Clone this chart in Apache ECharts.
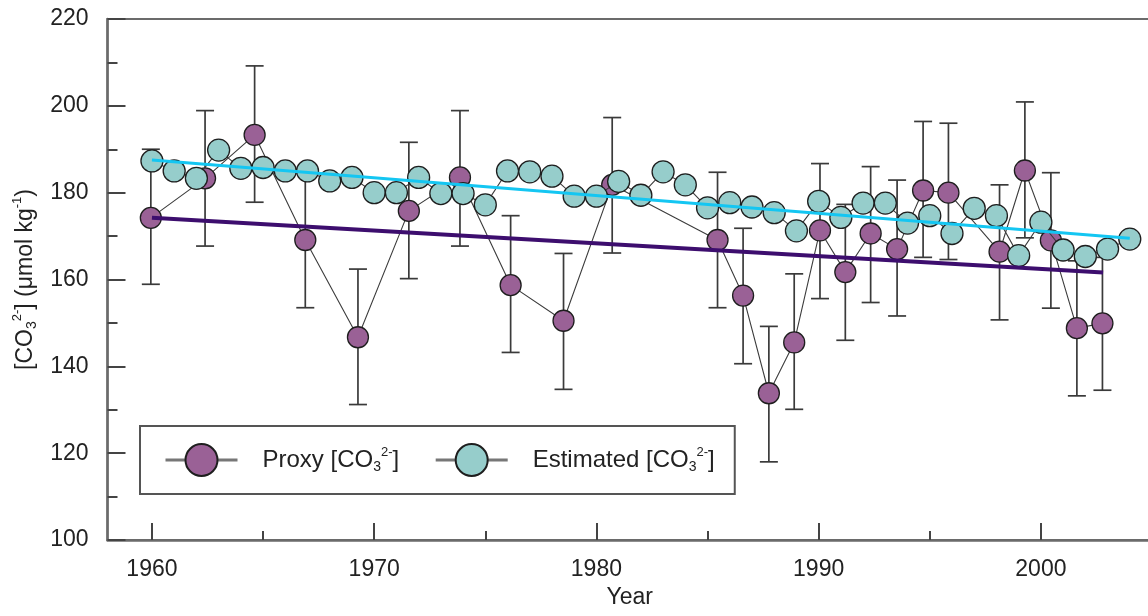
<!DOCTYPE html>
<html>
<head>
<meta charset="utf-8">
<title>Proxy and estimated carbonate ion concentration</title>
<script src="https://cdn.jsdelivr.net/npm/echarts@6/dist/echarts.min.js"></script>
<style>
  html, body { margin: 0; padding: 0; background: #fff; }
  #chart { width: 1148px; height: 616px; }
</style>
</head>
<body>
<div id="chart"></div>
<script>
// Proxy record: sample year, value and error-bar limits (µmol kg-1)
const proxyYears  = [1959.95, 1962.39, 1964.62, 1966.90, 1969.27, 1971.56, 1973.86, 1976.14, 1978.52, 1980.71,
                     1985.45, 1986.60, 1987.76, 1988.90, 1990.06, 1991.20, 1992.34, 1993.53, 1994.70, 1995.84,
                     1998.14, 1999.28, 2000.45, 2001.62, 2002.77];
const proxyValues = [174.2, 183.3, 193.3, 169.1, 146.7, 175.8, 183.5, 158.7, 150.5, 181.8,
                     169.1, 156.3, 133.8, 145.5, 171.3, 161.7, 170.6, 167.0, 180.5, 180.0,
                     166.4, 185.1, 169.0, 148.8, 149.9];
const proxyLow    = [158.9, 167.7, 177.8, 153.5, 131.2, 160.2, 167.7, 143.2, 134.7, 166.1,
                     153.5, 140.6, 118.0, 130.1, 155.6, 146.0, 154.7, 151.6, 165.1, 164.6,
                     150.7, 169.6, 153.4, 133.2, 134.5];
const proxyHigh   = [190.0, 198.9, 209.2, 184.7, 162.4, 191.6, 198.9, 174.7, 166.0, 197.3,
                     184.7, 171.8, 149.2, 161.3, 186.7, 177.3, 186.0, 182.9, 196.4, 196.0,
                     181.8, 200.9, 184.6, 164.3, 165.1];

// Estimated annual values
const estYears  = [1960, 1961, 1962, 1963, 1964, 1965, 1966, 1967, 1968, 1969,
                   1970, 1971, 1972, 1973, 1974, 1975, 1976, 1977, 1978, 1979,
                   1980, 1981, 1982, 1983, 1984, 1985, 1986, 1987, 1988, 1989,
                   1990, 1991, 1992, 1993, 1994, 1995, 1996, 1997, 1998, 1999,
                   2000, 2001, 2002, 2003, 2004];
const estValues = [187.3, 185.0, 183.3, 189.8, 185.6, 185.8, 185.0, 185.0, 182.7, 183.5,
                   180.0, 180.0, 183.5, 179.8, 179.8, 177.2, 185.0, 184.8, 183.8, 179.2,
                   179.2, 182.6, 179.4, 184.8, 181.8, 176.5, 177.7, 176.7, 175.4, 171.2,
                   178.0, 174.3, 177.6, 177.6, 173.0, 174.7, 170.6, 176.4, 174.7, 165.5,
                   173.2, 166.8, 165.3, 167.0, 169.3];

// Linear trend end points
const proxyTrend = [[1960, 174.2], [2002.8, 161.6]];
const estTrend   = [[1960, 187.5], [2004, 169.5]];

// Axis ticks
const yearMajorTicks = [1960, 1970, 1980, 1990, 2000];
const yearMinorTicks = [1965, 1975, 1985, 1995];

const FONT = "'Liberation Sans', Arial, Helvetica, sans-serif";
const TEXT = '#222';
const AXIS = '#6b6b6b';

const subSup = {
  sub: { fontSize: 14, fontFamily: FONT, color: TEXT, verticalAlign: 'bottom', lineHeight: 28 },
  sup: { fontSize: 13, fontFamily: FONT, color: TEXT, verticalAlign: 'top', lineHeight: 28 }
};

const proxyData = proxyYears.map((y, i) => [y, proxyValues[i]]);
const estData = estYears.map((y, i) => [y, estValues[i]]);
const errData = proxyYears.map((y, i) => [y, proxyLow[i], proxyHigh[i]]);

const chart = echarts.init(document.getElementById('chart'), null, { renderer: 'canvas' });

chart.setOption({
  animation: false,
  backgroundColor: '#fff',
  grid: {
    left: 107.5, top: 19, width: 1044.5, height: 521,
    outerBoundsMode: 'none',
    show: true, borderColor: AXIS, borderWidth: 2, backgroundColor: 'transparent'
  },
  legend: {
    data: ['Proxy', 'Estimated'],
    left: 140, top: 426,
    orient: 'horizontal',
    itemWidth: 72, itemHeight: 40, itemGap: 35,
    padding: [17, 20, 17, 24],
    borderColor: '#555', borderWidth: 2, backgroundColor: '#fff',
    lineStyle: { color: '#777', width: 3 },
    selectedMode: false,
    formatter: name => name === 'Proxy'
      ? 'Proxy [CO{sub|3}{sup|2-}]'
      : 'Estimated [CO{sub|3}{sup|2-}]',
    textStyle: {
      fontSize: 24, fontFamily: FONT, color: TEXT, lineHeight: 28,
      padding: [0, 0, 0, 20],
      rich: subSup
    }
  },
  xAxis: [
    {
      type: 'value', min: 1958, max: 2005,
      name: 'Year', nameLocation: 'middle', nameGap: 44,
      nameTextStyle: { fontSize: 23, fontFamily: FONT, color: TEXT },
      axisLine: { show: true, lineStyle: { color: AXIS, width: 2.5 } },
      axisTick: { show: true, inside: true, length: 17, customValues: yearMajorTicks,
                  lineStyle: { color: '#444', width: 2 } },
      axisLabel: { show: true, customValues: yearMajorTicks, margin: 18,
                   fontSize: 23, fontFamily: FONT, color: TEXT,
                   formatter: v => String(v) },
      splitLine: { show: false }
    },
    {
      // minor year ticks
      type: 'value', min: 1958, max: 2005, position: 'bottom',
      axisLine: { show: false },
      axisTick: { show: true, inside: true, length: 9, customValues: yearMinorTicks,
                  lineStyle: { color: '#444', width: 2 } },
      axisLabel: { show: false },
      splitLine: { show: false }
    }
  ],
  yAxis: {
    type: 'value', min: 100, max: 220, interval: 20,
    name: '[CO{sub|3}{sup|2-}] (μmol kg{sup|-1})',
    nameLocation: 'middle', nameRotate: 90, nameGap: 68,
    nameTextStyle: { fontSize: 23, fontFamily: FONT, color: TEXT, lineHeight: 28, rich: subSup },
    axisLine: { show: true, lineStyle: { color: AXIS, width: 2.5 } },
    axisTick: { show: true, inside: true, length: 18, lineStyle: { color: '#444', width: 2 } },
    minorTick: { show: true, splitNumber: 2, length: 10, lineStyle: { color: '#444', width: 2 } },
    axisLabel: { margin: 19, fontSize: 23, fontFamily: FONT, color: TEXT },
    splitLine: { show: false }
  },
  series: [
    {
      name: 'errors',
      type: 'custom',
      z: 2,
      data: errData,
      encode: { x: 0, y: [1, 2] },
      renderItem: (params, api) => {
        const x = api.value(0);
        const lo = api.coord([x, api.value(1)]);
        const hi = api.coord([x, api.value(2)]);
        const hw = 9;
        const style = { stroke: '#3a3a3a', lineWidth: 1.7 };
        return {
          type: 'group',
          children: [
            { type: 'line', shape: { x1: lo[0], y1: lo[1], x2: hi[0], y2: hi[1] }, style },
            { type: 'line', shape: { x1: lo[0] - hw, y1: lo[1], x2: lo[0] + hw, y2: lo[1] }, style },
            { type: 'line', shape: { x1: hi[0] - hw, y1: hi[1], x2: hi[0] + hw, y2: hi[1] }, style }
          ]
        };
      }
    },
    {
      name: 'Proxy',
      type: 'line',
      z: 3,
      data: proxyData,
      symbol: 'circle', symbolSize: 21,
      lineStyle: { color: '#3c3c3c', width: 1.1 },
      itemStyle: { color: '#9a6196', borderColor: '#1e1e1e', borderWidth: 1.3 }
    },
    {
      name: 'Estimated',
      type: 'line',
      z: 4,
      data: estData,
      symbol: 'circle', symbolSize: 22,
      lineStyle: { color: '#3c3c3c', width: 1.1 },
      itemStyle: { color: '#96cdcb', borderColor: '#1e1e1e', borderWidth: 1.3 }
    },
    {
      name: 'Proxy trend',
      type: 'line',
      z: 5,
      data: proxyTrend,
      symbol: 'none',
      lineStyle: { color: '#3d0e6e', width: 4 }
    },
    {
      name: 'Estimated trend',
      type: 'line',
      z: 5,
      data: estTrend,
      symbol: 'none',
      lineStyle: { color: '#14c6f2', width: 3 }
    }
  ]
});
</script>
</body>
</html>
